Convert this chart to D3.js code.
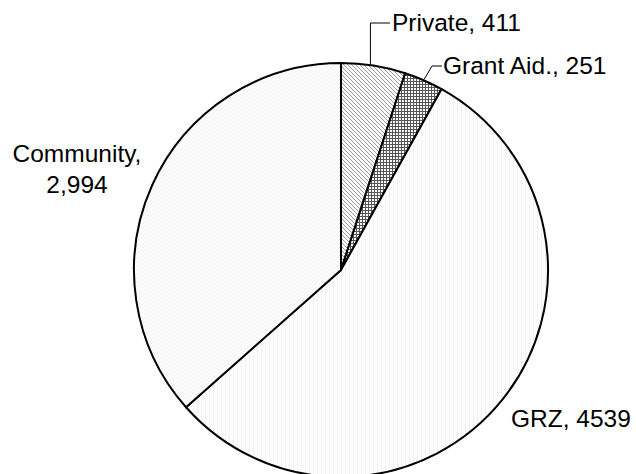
<!DOCTYPE html>
<html>
<head>
<meta charset="utf-8">
<script src="https://cdn.jsdelivr.net/npm/d3@7"></script>
<style>
  html, body { margin: 0; padding: 0; background: #fff; }
  svg { display: block; }
  text { font-family: "Liberation Sans", Arial, sans-serif; fill: #000; }
</style>
</head>
<body>
<svg id="chart" width="636" height="474"></svg>
<script>
// Schools by agency
const categories = ["Private", "Grant Aid.", "GRZ", "Community"];
const counts = [411, 251, 4539, 2994];
const countLabels = ["411", "251", "4539", "2,994"];

const W = 636, H = 474;
const cx = 341, cy = 270, R = 207;
const svg = d3.select("#chart");
const defs = svg.append("defs");

// Fill patterns, one per slice
function hatch(id, size, draw) {
  const p = defs.append("pattern").attr("id", id)
    .attr("patternUnits", "userSpaceOnUse")
    .attr("width", size).attr("height", size);
  p.append("rect").attr("width", size).attr("height", size).attr("fill", "#fff");
  draw(p);
}
hatch("pPrivate", 4, p => {
  p.append("path").attr("d", "M0,0 L4,4 M-1,3 L1,5 M3,-1 L5,1")
    .attr("stroke", "#999").attr("stroke-width", 1);
});
hatch("pGrant", 3, p => {
  p.append("path").attr("d", "M0,0.5 H3 M0.5,0 V3")
    .attr("stroke", "#555").attr("stroke-width", 1);
});
hatch("pGRZ", 4, p => {
  p.append("path").attr("d", "M0.5,0 V4")
    .attr("stroke", "#f0f0f0").attr("stroke-width", 1);
});
hatch("pCommunity", 4, p => {
  p.append("path").attr("d", "M0,4 L4,0 M-1,1 L1,-1 M3,5 L5,3")
    .attr("stroke", "#f0f0f0").attr("stroke-width", 1);
});
const fills = d3.scaleOrdinal().domain(categories)
  .range(["url(#pPrivate)", "url(#pGrant)", "url(#pGRZ)", "url(#pCommunity)"]);

const pie = d3.pie().sort(null).value(d => d.v);
const data = categories.map((c, i) => ({ c, v: counts[i], lab: countLabels[i] }));
const arcs = pie(data);
const arc = d3.arc().innerRadius(0).outerRadius(R);

const g = svg.append("g").attr("transform", `translate(${cx},${cy})`);
g.selectAll("path.slice").data(arcs).enter().append("path")
  .attr("class", "slice")
  .attr("d", arc)
  .attr("fill", d => fills(d.data.c))
  .attr("stroke", "#000")
  .attr("stroke-width", 2)
  .attr("stroke-linejoin", "round");

// Point on the rim at a fraction of a slice's span
function rim(d, t, r) {
  const a = d.startAngle + (d.endAngle - d.startAngle) * t;
  return [cx + r * Math.sin(a), cy - r * Math.cos(a)];
}

const fs = 24.5;
const lab = svg.append("g").attr("font-size", fs);
const leader = svg.append("g").attr("fill", "none").attr("stroke", "#000").attr("stroke-width", 1);

// Private: vertical leader, then across to the label
{
  const d = arcs[0];
  const p = rim(d, 0.45, R + 1);
  leader.append("path").attr("d", `M${p[0]},${p[1]} V23 H390`);
  lab.append("text").attr("x", 392).attr("y", 31).text(`${d.data.c}, ${d.data.lab}`);
}
// Grant Aid.: short diagonal leader
{
  const d = arcs[1];
  const p = rim(d, 0.5, R + 1);
  leader.append("path").attr("d", `M${p[0]},${p[1]} L432,66 H442`);
  lab.append("text").attr("x", 443).attr("y", 74).text(`${d.data.c}, ${d.data.lab}`);
}
// GRZ
{
  const d = arcs[2];
  lab.append("text").attr("x", 511).attr("y", 427).text(`${d.data.c}, ${d.data.lab}`);
}
// Community, on two lines
{
  const d = arcs[3];
  const t = lab.append("text").attr("text-anchor", "middle");
  t.append("tspan").attr("x", 77).attr("y", 162).text(`${d.data.c},`);
  t.append("tspan").attr("x", 77).attr("y", 193).text(d.data.lab);
}
</script>
</body>
</html>
